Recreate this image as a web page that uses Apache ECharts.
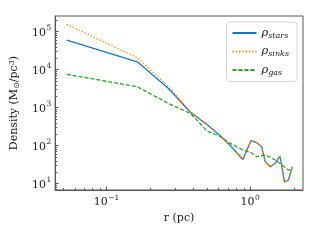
<!DOCTYPE html>
<html><head><meta charset="utf-8">
<script src="https://cdn.jsdelivr.net/npm/echarts@6/dist/echarts.min.js"></script>
<style>html,body{margin:0;padding:0;background:#fff}#c{width:320px;height:240px}</style>
</head><body><div id="c"></div>
<script>
// r (pc)
const radius   = [0.053, 0.164, 0.27, 0.385, 0.50, 0.61, 0.725, 0.89, 1.01, 1.11, 1.20, 1.27, 1.38, 1.49, 1.61, 1.73, 1.84, 1.96];
// Density (Msun/pc^3)
const rhoStars = [59700, 16000, 3160, 738, 357, 189, 100, 42.8, 134, 119, 93, 37.5, 27.7, 34, 53, 11.1, 12.4, 27.7];
const rhoSinks = [155000, 20400, 3570, 760, 357, 189, 100, 42.8, 134, 119, 93, 37.5, 27.7, 34, 53, 11.1, 12.4, 27.7];
const rhoGas   = [7480, 3520, 1274, 695, 241, 178, 114, 76, 65.5, 50.7, 54.6, 56, 48.9, 41.5, 34, 27.2, 22.6, 23.4];
const xTickValues = [0.1, 1];
const xTickExps   = ['\u22121', '0'];
const yTickValues = [10, 100, 1000, 10000, 100000];
const yTickExps   = ['1', '2', '3', '4', '5'];
const xMinorTicks = [0.05, 0.06, 0.07, 0.08, 0.09, 0.2, 0.3, 0.4, 0.5, 0.6, 0.7, 0.8, 0.9, 2];
const yMinorTicks = [7, 8, 9, 20, 30, 40, 50, 60, 70, 80, 90, 200, 300, 400, 500, 600, 700, 800, 900,
  2000, 3000, 4000, 5000, 6000, 7000, 8000, 9000, 20000, 30000, 40000, 50000, 60000, 70000, 80000, 90000, 200000];

const FONT = 'DejaVu Serif';
const AX = '#555';
const rich = {
  b: {fontFamily: FONT, fontSize: 11, color: '#222', verticalAlign: 'bottom', lineHeight: 14},
  s: {fontFamily: FONT, fontSize: 7.5, color: '#222', verticalAlign: 'top', lineHeight: 14, padding: [0,0,0,0.5]}
};
function fmt(values, exps) {
  return function (v) {
    for (let i = 0; i < values.length; i++) {
      if (Math.abs(Math.log10(v) - Math.log10(values[i])) < 1e-6) return '{b|10}{s|' + exps[i] + '}';
    }
    return '';
  };
}
const chart = echarts.init(document.getElementById('c'), null, {renderer: 'canvas'});
const pair = (xs, ys) => xs.map((x, i) => [x, ys[i]]);
const legendRich = {
  r: {fontFamily: FONT, fontStyle: 'italic', fontSize: 11.5, color: '#222'},
  u: {fontFamily: FONT, fontStyle: 'italic', fontSize: 8, color: '#222', padding: [5, 0, 0, 0]}
};
chart.setOption({
  animation: false,
  grid: {left: 54, right: 17, top: 16, bottom: 50, show: true, borderColor: AX, borderWidth: 1},
  xAxis: {
    type: 'log', logBase: 10, min: 0.04401, max: 2.327,
    name: 'r (pc)', nameLocation: 'middle', nameGap: 20,
    nameTextStyle: {fontFamily: FONT, fontSize: 11, color: '#222'},
    axisLine: {show: true, lineStyle: {color: AX, width: 1}},
    axisTick: {show: true, inside: true, length: 3.5, lineStyle: {color: AX}},
    splitLine: {show: false},
    axisLabel: {formatter: fmt(xTickValues, xTickExps), rich: rich, margin: 4, showMinLabel: false, showMaxLabel: false}
  },
  yAxis: {
    type: 'log', logBase: 10, min: 6.75, max: 256000,
    name: 'Density (M{sub|\u2299}/pc{sup|3})', nameLocation: 'middle', nameGap: 30, nameRotate: 90,
    nameTextStyle: {fontFamily: FONT, fontSize: 11, color: '#222',
      rich: {sub: {fontFamily: FONT, fontSize: 8, color: '#222', padding: [5,0,0,0]}, sup: {fontFamily: FONT, fontSize: 8, color: '#222', padding: [0,0,5,0]}}},
    axisLine: {show: true, lineStyle: {color: AX, width: 1}},
    axisTick: {show: true, inside: true, length: 3.5, lineStyle: {color: AX}},
    splitLine: {show: false},
    axisLabel: {formatter: fmt(yTickValues, yTickExps), rich: rich, margin: 4, showMinLabel: false, showMaxLabel: false}
  },
  legend: {
    orient: 'vertical', right: 23, top: 22, itemWidth: 24, itemHeight: 10, itemGap: 6,
    padding: [5, 8, 5, 5], borderColor: '#d5d5d5', borderWidth: 1, borderRadius: 3, backgroundColor: '#fff',
    itemStyle: {opacity: 0},
    data: ['stars', 'sinks', 'gas'],
    formatter: n => '{r|\u03c1}{u|' + n + '}',
    textStyle: {rich: legendRich}
  },
  series: [
    {name: 'stars', type: 'line', data: pair(radius, rhoStars), symbol: 'none', showSymbol: false,
     lineStyle: {color: '#1f77b4', width: 1.3}, itemStyle: {color: '#1f77b4'}, z: 2},
    {name: 'sinks', type: 'line', data: pair(radius, rhoSinks), symbol: 'none', showSymbol: false,
     lineStyle: {color: '#ff7f0e', width: 1.3, type: [1.3, 2]}, itemStyle: {color: '#ff7f0e'}, z: 3},
    {name: 'gas', type: 'line', data: pair(radius, rhoGas), symbol: 'none', showSymbol: false,
     lineStyle: {color: '#2ca02c', width: 1.3, type: [4, 2]}, itemStyle: {color: '#2ca02c'}, z: 4}
  ]
});
// minor ticks (inward), positioned via the axes' own scales
const g = [];
const y0 = chart.convertToPixel({yAxisIndex: 0}, 6.75);
const x0 = chart.convertToPixel({xAxisIndex: 0}, 0.04401);
xMinorTicks.forEach(v => {
  const x = Math.round(chart.convertToPixel({xAxisIndex: 0}, v)) + 0.5;
  g.push({type: 'line', shape: {x1: x, y1: y0, x2: x, y2: y0 - 2}, style: {stroke: AX, lineWidth: 1}, silent: true});
});
yMinorTicks.forEach(v => {
  const y = Math.round(chart.convertToPixel({yAxisIndex: 0}, v)) + 0.5;
  g.push({type: 'line', shape: {x1: x0, y1: y, x2: x0 + 2, y2: y}, style: {stroke: AX, lineWidth: 1}, silent: true});
});
chart.setOption({graphic: g});
</script></body></html>
